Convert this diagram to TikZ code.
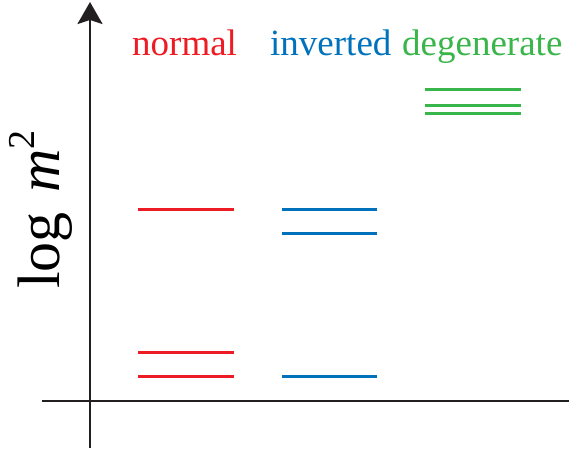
\documentclass[tikz,border=0pt]{standalone}
\usepackage{fontspec}
\setmainfont{Liberation Serif}
\usetikzlibrary{arrows.meta}
\definecolor{nred}{RGB}{237,28,36}
\definecolor{nblue}{RGB}{0,114,188}
\definecolor{ngreen}{RGB}{57,181,74}
\definecolor{axisgray}{RGB}{35,31,32}
\tikzset{
  axis/.style={line width=2.6pt, axisgray},
  level/.style={line width=3pt},
  lab/.style={inner sep=0pt, anchor=base west, font=\fontsize{37}{40}\selectfont},
}
\begin{document}
\begin{tikzpicture}[x=1pt,y=-1pt]
\useasboundingbox (0,0) rectangle (575,452);
% axes
\coordinate (yb) at (90,448);
\coordinate (yt) at (90,2);
\coordinate (xl) at (42,401);
\coordinate (xr) at (569,401);
\draw[axis, -{Stealth[length=22pt,width=25pt,inset=4pt]}] (yb) -- (yt);
\draw[axis] (xl) -- (xr);
% labels
\node[lab, text=nred] (ln) at (132,56) {normal};
\node[lab, text=nblue] (li) at (270,56) {inverted};
\node[lab, text=ngreen] (ld) at (402,56) {degenerate};
\node[inner sep=0pt, anchor=base west, rotate=90, font=\fontsize{60}{62}\selectfont] (ly) at (59,289) {log\hspace{0.32em}\textit{m}\raisebox{25pt}{\fontsize{38}{38}\selectfont 2}};
% normal
\coordinate (n1a) at (138,209); \coordinate (n1b) at (234,209);
\coordinate (n2a) at (138,352.5); \coordinate (n2b) at (234,352.5);
\coordinate (n3a) at (138,376.5); \coordinate (n3b) at (234,376.5);
\draw[level, nred] (n1a) -- (n1b);
\draw[level, nred] (n2a) -- (n2b);
\draw[level, nred] (n3a) -- (n3b);
% inverted
\coordinate (i1a) at (282,209); \coordinate (i1b) at (377,209);
\coordinate (i2a) at (282,233); \coordinate (i2b) at (377,233);
\coordinate (i3a) at (282,376.5); \coordinate (i3b) at (377,376.5);
\draw[level, nblue] (i1a) -- (i1b);
\draw[level, nblue] (i2a) -- (i2b);
\draw[level, nblue] (i3a) -- (i3b);
% degenerate
\coordinate (d1a) at (425,89); \coordinate (d1b) at (521,89);
\coordinate (d2a) at (425,105); \coordinate (d2b) at (521,105);
\coordinate (d3a) at (425,113); \coordinate (d3b) at (521,113);
\draw[level, ngreen] (d1a) -- (d1b);
\draw[level, ngreen] (d2a) -- (d2b);
\draw[level, ngreen] (d3a) -- (d3b);
\end{tikzpicture}
\end{document}
